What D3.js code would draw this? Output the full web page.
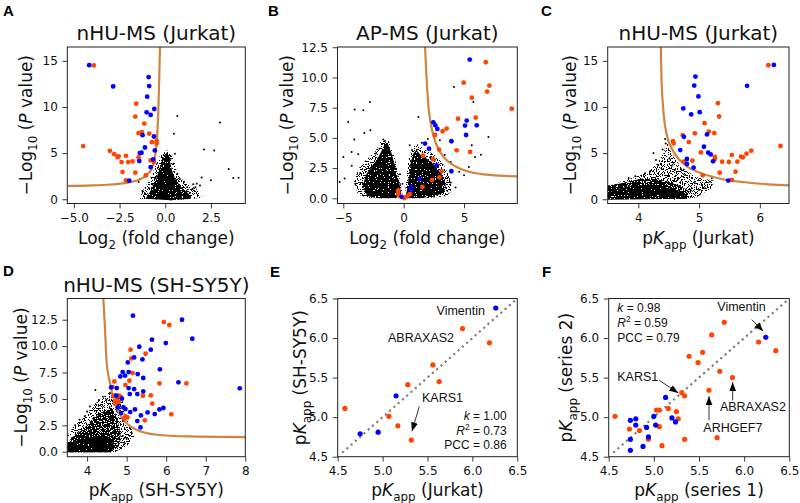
<!DOCTYPE html>
<html><head><meta charset="utf-8">
<script src="https://cdn.jsdelivr.net/npm/d3@7"></script>
<style>
body{margin:0;background:#fff}
svg{display:block}
text{white-space:pre}
</style>
</head><body>
<svg id="c" width="800" height="503"></svg>
<script>
// ---------------- DATA ----------------
// Panel A: nHU-MS (Jurkat) volcano
const A_blue = [[-4.16,14.53],[-0.91,13.24],[-0.88,12.27],[-2.85,12.23],[-0.99,11.12],[-0.60,9.78],[-1.02,9.42],[-0.80,9.14],[-1.24,6.94],[-0.62,6.80],[-1.11,5.61],[-0.57,5.29],[-1.39,5.0],[-1.30,5.04],[-1.42,4.14],[-0.66,4.32],[-0.80,3.49],[-1.97,2.01]];
const A_orange = [[-3.91,14.5],[-1.59,10.36],[-1.64,8.96],[-1.15,8.2],[-1.46,7.16],[-1.28,7.27],[-0.88,7.12],[-0.47,6.33],[-0.47,6.04],[-0.73,6.19],[-4.49,5.76],[-3.03,5.25],[-2.79,4.89],[-2.61,4.57],[-2.55,4.65],[-2.15,4.71],[-1.46,4.53],[-2.39,4.03],[-2.03,4.03],[-1.79,4.1],[-0.80,4.21],[-0.62,4.03],[-2.34,2.95],[-1.64,2.88],[-1.06,2.59],[-2.15,2.05]];
const A_black = [[0.66,9.03],[2.99,8.31],[0.47,7.09],[2.12,5.40],[2.68,5.29],[3.47,3.27],[3.72,2.30],[4.01,2.34],[1.99,2.37],[2.5,2.05],[1.53,1.62],[1.72,1.69],[1.5,1.15],[1.65,1.3],[1.9,1.5],[1.17,0.86],[1.35,0.7],[0.53,4.93],[0.44,3.85],[-0.29,3.31],[-1.09,0.61],[-1.39,2.16],[-1.46,1.87],[1.02,1.87],[0.66,2.77],[0.8,2.2],[-0.7,1.6],[-0.9,1.2],[-1.25,0.9],[0.3,4.4],[-0.15,4.2],[1.2,1.3],[-0.55,2.3]];
const A_core = [[-1.1,0.05],[-0.9,0.6],[-0.7,1.3],[-0.5,2.2],[-0.35,3.1],[-0.2,4.0],[-0.05,4.8],[0.12,5.1],[0.25,4.5],[0.3,3.7],[0.4,2.9],[0.55,2.2],[0.8,1.5],[1.1,0.9],[1.4,0.4],[1.4,0.05],[0.3,-0.1]];
const A_halo = [[-1.4,0.05],[-1.25,0.9],[-0.95,1.8],[-0.7,2.8],[-0.5,3.8],[-0.3,4.7],[0.1,5.3],[0.45,4.6],[0.6,3.2],[0.9,2.2],[1.4,1.5],[1.9,0.9],[2.0,0.1],[0.3,-0.1]];
const A_curve = [[-5.36,1.44],[-4.0,1.5],[-3.0,1.6],[-2.2,1.75],[-1.6,2.0],[-1.2,2.35],[-0.9,2.85],[-0.7,3.5],[-0.58,4.4],[-0.5,5.5],[-0.44,7.0],[-0.38,9.5],[-0.33,13.0],[-0.29,16.5]];
const A_xticks = [-5,-2.5,0,2.5];
const A_yticks = [0,5,10,15];

// Panel B: AP-MS (Jurkat) volcano
const B_blue = [[5.47,11.48],[5.22,6.43],[2.46,6.29],[2.62,6.04],[2.79,5.74],[5.08,6.02],[6.05,6.04],[5.17,5.24],[1.77,4.53],[2.10,4.11],[3.95,4.72],[2.73,2.73],[3.95,2.24],[1.33,1.60],[0.62,0.9],[0.6,0.7],[-0.18,0.12]];
const B_orange = [[6.80,11.26],[4.97,9.57],[7.10,9.33],[6.91,8.83],[5.64,8.33],[8.95,7.42],[4.50,6.59],[5.97,6.68],[3.56,5.77],[3.23,5.55],[2.60,5.24],[2.93,4.03],[4.39,3.97],[5.50,3.84],[1.60,3.53],[2.43,3.23],[3.15,2.24],[2.96,1.74],[2.35,1.52],[1.55,0.94],[-0.45,0.64],[-0.45,0.45],[-0.42,0.25],[0.05,0.02],[0.2,0.12],[0.4,0.25],[0.52,0.36]];
const B_black = [[-2.79,7.97],[-4.06,7.34],[-3.34,7.28],[-4.59,6.32],[-2.76,5.63],[-3.26,5.41],[-4.09,4.86],[-5.0,3.42],[-4.31,3.84],[-3.76,3.64],[-4.89,1.63],[-5.3,1.35],[-1.69,4.86],[-1.55,4.75],[1.22,6.73],[4.17,9.22],[5.77,7.97],[7.02,5.08],[5.64,4.39],[5.91,3.42],[3.9,3.0],[4.6,2.2],[5.0,1.9],[-3.6,2.1],[-4.0,1.2],[-4.3,2.7],[-2.3,3.7],[-2.0,4.1],[0.5,4.4],[0.7,4.0],[1.5,4.6],[2.0,4.9],[3.0,4.8],[3.4,3.6],[2.6,3.2],[2.2,3.0],[3.9,1.3],[4.3,0.9],[-0.3,2.0],[-0.1,1.2],[6.4,3.6],[5.4,2.6]];
const B_coreL = [[-3.0,0.2],[-3.4,1.0],[-3.1,2.0],[-2.6,2.7],[-2.2,3.2],[-1.85,3.9],[-1.55,4.5],[-1.3,4.5],[-1.0,3.7],[-0.75,2.8],[-0.5,1.8],[-0.3,1.0],[-0.2,0.3],[-0.5,0.05],[-1.5,0.0],[-2.4,0.05]];
const B_haloL = [[-3.8,0.3],[-4.1,1.4],[-3.7,2.5],[-3.1,3.2],[-2.4,3.8],[-1.9,4.7],[-1.3,4.9],[-0.8,3.6],[-0.4,2.0],[-0.1,0.4],[-0.5,0.0],[-2.8,0.0]];
const B_coreR = [[0.15,0.1],[0.3,0.8],[0.45,1.9],[0.6,3.0],[0.8,3.7],[1.05,4.0],[1.4,3.6],[1.9,3.3],[2.5,2.8],[3.0,2.2],[3.4,1.5],[3.5,0.9],[3.3,0.45],[2.5,0.15],[1.4,0.03],[0.5,0.03]];
const B_haloR = [[0.1,0.0],[0.2,1.5],[0.4,3.2],[0.7,4.2],[1.1,4.5],[1.8,4.0],[2.6,3.6],[3.3,2.8],[3.8,1.8],[4.0,0.8],[3.6,0.2],[2.0,0.0]];
const B_curve = [[1.77,12.55],[1.85,10.8],[1.95,9.0],[2.07,7.42],[2.32,5.77],[2.73,4.39],[3.43,3.28],[4.39,2.59],[5.5,2.18],[6.88,1.96],[8.26,1.85],[9.42,1.82]];
const B_xticks = [-5,0,5];
const B_yticks = [0,2.5,5,7.5,10,12.5];

// Panel C: nHU-MS (Jurkat) vs pKapp
const C_blue = [[6.23,14.56],[4.94,13.3],[4.92,12.32],[5.79,12.29],[4.99,11.14],[4.74,9.84],[5.01,9.44],[4.87,9.19],[5.13,7.03],[4.75,6.77],[5.08,5.69],[4.69,5.33],[5.15,5.05],[5.19,4.86],[5.23,4.11],[4.80,4.36],[4.80,3.82],[4.91,3.42],[5.48,2.02]];
const C_orange = [[6.14,14.52],[5.31,10.41],[5.33,8.97],[5.09,8.25],[4.93,7.14],[5.16,7.32],[5.25,7.17],[4.73,6.95],[4.83,6.2],[4.57,6.31],[4.58,6.05],[6.34,5.77],[5.03,5.08],[5.86,5.26],[5.78,4.94],[5.69,4.61],[5.72,4.55],[5.54,4.79],[5.26,4.58],[5.26,4.36],[5.38,4.07],[5.49,4.04],[5.63,4.07],[4.89,4.18],[4.75,4.07],[5.34,2.88],[5.6,2.99],[5.06,2.59],[5.54,2.09]];
const C_black = [[4.44,6.52],[4.45,6.05],[4.51,4.43],[4.29,4.25],[4.33,3.71],[4.38,3.35],[4.55,3.64],[4.60,3.17],[4.70,3.28],[4.77,2.63],[4.93,1.73],[5.05,1.55],[5.21,2.27],[5.18,1.91],[4.88,1.19],[4.19,2.99],[4.11,2.81],[3.95,2.5],[3.84,2.3],[4.25,5.0],[4.4,5.4],[4.5,2.5],[4.65,2.2],[5.0,1.0],[5.1,1.2]];
const C_core = [[3.49,-0.05],[3.49,1.1],[3.7,1.2],[3.85,1.4],[4.0,1.5],[4.2,1.6],[4.35,1.5],[4.5,1.2],[4.65,0.9],[4.75,0.5],[4.8,0.05]];
const C_mid = [[3.49,0.9],[3.49,1.5],[3.7,1.7],[3.9,2.0],[4.1,2.3],[4.3,2.2],[4.5,1.9],[4.7,1.4],[4.85,0.8],[4.8,0.05],[4.2,0.3]];
const C_halo = [[3.49,1.2],[3.7,1.9],[3.95,2.4],[4.15,2.9],[4.3,3.8],[4.42,5.0],[4.46,6.4],[4.55,5.0],[4.7,3.5],[4.95,2.4],[5.25,2.0],[5.2,1.2],[4.95,0.2],[4.6,-0.05]];
const C_curve = [[4.37,16.5],[4.38,13.4],[4.41,9.84],[4.47,6.95],[4.58,5.15],[4.77,3.71],[5.04,2.81],[5.37,2.2],[5.76,1.84],[6.14,1.62],[6.49,1.51]];
const C_xticks = [4,5,6];
const C_yticks = [0,5,10,15];

// Panel D: nHU-MS (SH-SY5Y)
const D_blue = [[5.16,12.88],[6.40,12.50],[6.66,10.70],[5.64,10.61],[5.99,10.29],[5.32,9.94],[5.61,9.66],[5.19,8.93],[5.40,8.74],[5.03,8.46],[4.90,7.54],[5.05,7.54],[5.28,7.35],[4.84,7.13],[5.42,6.98],[4.96,7.2],[5.84,7.80],[4.61,6.09],[4.75,6.03],[5.05,6.03],[5.19,5.93],[6.31,6.57],[7.86,6.0],[5.42,5.71],[5.08,5.46],[5.27,5.46],[4.74,5.30],[4.88,5.02],[4.78,4.20],[4.92,4.20],[4.97,4.04],[5.21,4.01],[4.86,3.66],[5.09,3.76],[5.53,3.72],[5.71,3.57],[5.83,4.01],[5.93,4.14],[5.36,3.44],[5.27,2.90],[5.35,2.30]];
const D_orange = [[5.94,12.28],[6.08,12.0],[5.10,9.66],[5.12,8.84],[5.48,9.28],[5.15,7.45],[4.69,6.66],[5.07,6.72],[4.97,6.31],[4.64,6.12],[5.83,6.47],[6.51,6.47],[4.67,5.30],[4.81,5.30],[4.75,4.86],[4.80,4.73],[4.70,4.61],[4.86,5.18],[5.41,5.30],[5.61,5.33],[5.65,4.55],[6.13,3.54],[4.97,3.35],[5.02,3.25],[5.46,2.97],[4.94,3.09]];
const D_black = [[4.21,5.84],[5.08,2.24],[5.13,1.77],[4.83,1.14],[4.9,1.5],[3.81,3.03],[3.94,3.35],[4.07,4.29],[4.49,4.92],[4.58,5.56],[4.65,5.2],[4.3,4.9],[4.0,3.8],[3.7,2.5],[5.0,1.2],[4.95,0.8],[4.4,5.2],[4.75,5.0]];
const D_core = [[3.49,-0.05],[3.49,0.9],[3.8,1.1],[4.1,1.4],[4.4,1.6],[4.6,1.2],[4.7,0.5],[4.6,-0.05]];
const D_mid = [[3.49,0.6],[3.6,1.3],[3.85,2.0],[4.05,2.7],[4.25,3.4],[4.45,3.9],[4.6,4.2],[4.72,3.6],[4.8,2.6],[4.85,1.5],[4.8,0.5],[4.6,-0.05],[3.49,-0.05]];
const D_halo = [[3.49,1.5],[3.7,2.6],[3.95,3.4],[4.15,4.4],[4.35,5.0],[4.55,5.6],[4.75,5.5],[4.9,4.8],[4.95,3.5],[5.1,2.4],[5.2,1.5],[5.0,0.5],[4.7,-0.05]];
const D_curve = [[4.41,14.55],[4.45,11.87],[4.49,8.71],[4.58,6.5],[4.70,4.61],[4.92,3.03],[5.25,2.08],[5.76,1.61],[6.53,1.45],[8.02,1.39]];
const D_xticks = [4,5,6,7,8];
const D_yticks = [0,2.5,5,7.5,10,12.5];

// Panel E: pKapp Jurkat vs SH-SY5Y
const E_blue = [[6.26,6.38],[5.15,5.27],[4.75,4.79],[4.95,4.81]];
const E_orange = [[5.89,6.12],[6.19,5.94],[5.56,5.66],[5.63,5.45],[5.28,5.41],[4.58,5.11],[5.07,5.01],[5.17,4.89],[5.32,4.71]];
const E_stats = [["k","1.00"],["R2","0.73"],["PCC","0.86"]];
// Panel F: series 1 vs series 2
const F_blue = [[6.24,6.01],[5.13,5.25],[4.74,4.96],[4.80,4.98],[4.80,4.90],[4.74,4.72],[4.74,4.58],[4.92,4.87],[4.94,4.75],[4.88,4.63],[5.00,5.01],[5.02,4.90],[5.20,4.99],[5.24,4.94]];
const F_orange = [[5.78,6.20],[5.64,6.04],[6.16,5.95],[6.35,5.84],[5.39,5.77],[5.54,5.82],[5.49,5.69],[5.73,5.58],[5.87,5.50],[5.61,5.34],[5.31,5.31],[5.34,5.27],[4.57,5.01],[5.03,5.09],[5.06,5.09],[5.16,5.11],[5.25,5.07],[5.27,4.98],[4.73,4.85],[4.84,4.83],[5.06,4.88],[4.94,4.72],[5.09,4.64],[5.34,4.72],[5.70,4.74]];
const F_stats = [["k","0.98"],["R2","0.59"],["PCC","0.79"]];
const EF_ticks = [4.5,5,5.5,6,6.5];
const diagonal = [[4.55,4.55],[6.5,6.5]];

// annotations: [text, anchor, x, y, arrowFrom, arrowTo]
const E_notes = [["Vimentin","end",6.14,6.29,null,null],["ABRAXAS2","middle",5.428,5.954,null,null],["KARS1","start",5.439,5.188,[5.409,5.137],[5.327,4.821]]];
const F_notes = [["Vimentin","end",6.239,6.338,[6.084,6.232],[6.212,6.085]],["KARS1","start",4.595,5.453,[5.06,5.466],[5.271,5.305]],["ABRAXAS2","middle",6.097,5.074,[5.873,5.213],[5.873,5.441]],["ARHGEF7","middle",5.875,4.808,[5.611,4.962],[5.611,5.265]]];

// ---------------- DRAWING ----------------
const BLUE="#0000ff", ORANGE="#ff4500", CURVE="#cd853f";
const TICKF="DejaVu Sans", ANNF="Liberation Sans, Arial, sans-serif";
const svg = d3.select("#c");
const defs = svg.append("defs");
defs.append("marker").attr("id","arr").attr("viewBox","0 0 10 10").attr("refX",10).attr("refY",5)
  .attr("markerWidth",9).attr("markerHeight",9).attr("markerUnits","userSpaceOnUse").attr("orient","auto")
  .append("path").attr("d","M0,1.2 L10,5 L0,8.8 z").attr("fill","#000");

// speckle texture filters (visual style for dense point clouds)
function speckle(id, k, seed){
  const f=defs.append("filter").attr("id",id).attr("x",0).attr("y",0).attr("width",1).attr("height",1)
    .attr("color-interpolation-filters","sRGB");
  f.append("feTurbulence").attr("type","fractalNoise").attr("baseFrequency",0.85).attr("numOctaves",1).attr("seed",seed).attr("result","n");
  f.append("feColorMatrix").attr("in","n").attr("type","matrix")
    .attr("values","0 0 0 0 0  0 0 0 0 0  0 0 0 0 0  1 0 0 0 0").attr("result","a");
  const tbl=d3.range(20).map(i=>i>=k?1:0).join(" ");
  f.append("feComponentTransfer").attr("in","a").attr("result","t").append("feFuncA").attr("type","discrete").attr("tableValues",tbl);
  f.append("feComposite").attr("in","t").attr("in2","SourceGraphic").attr("operator","in");
}
speckle("hi",7,3); speckle("mid",9,5); speckle("lo",11,7);

function rich(sel, parts, fs){
  let shift=0;
  parts.forEach(p=>{
    const ts=sel.append("tspan").text(p.t);
    const target = p.sub ? fs*0.3 : (p.sup ? -fs*0.38 : 0);
    if(target!==shift){ ts.attr("dy", target-shift); shift=target; }
    if(p.sub||p.sup) ts.attr("font-size", fs*0.7);
    if(p.it) ts.attr("font-style","italic");
  });
}
const LOGP = [{t:"\u2212Log"},{t:"10",sub:true},{t:" ("},{t:"P",it:true},{t:" value)"}];
const LOG2 = [{t:"Log"},{t:"2",sub:true},{t:" (fold change)"}];
const pK = s => [{t:"p"},{t:"K",it:true},{t:"app",sub:true},{t:" ("+s+")"}];

let clipN=0;
function panel(o){
  const [x0,x1,y0,y1]=o.frame;
  const x=d3.scaleLinear().domain(o.xDom).range([x0,x1]);
  const y=d3.scaleLinear().domain(o.yDom).range([y1,y0]);
  const id="clip"+(clipN++);
  defs.append("clipPath").attr("id",id).append("rect").attr("x",x0).attr("y",y0).attr("width",x1-x0).attr("height",y1-y0);
  const g=svg.append("g");
  const pg=g.append("g").attr("clip-path",`url(#${id})`);
  const poly=d3.line().x(d=>x(d[0])).y(d=>y(d[1])).curve(d3.curveLinearClosed);
  (o.layers||[]).forEach(L=>pg.append("g").attr("filter",`url(#${L[1]})`)
      .append("path").attr("d",poly(L[0])).attr("fill","#000"));
  pg.selectAll(null).data(o.black||[]).join("circle").attr("cx",d=>x(d[0])).attr("cy",d=>y(d[1])).attr("r",1).attr("fill","#000");
  if(o.curve){
    pg.append("path").attr("d",d3.line().x(d=>x(d[0])).y(d=>y(d[1])).curve(d3.curveMonotoneX)(o.curve))
      .attr("fill","none").attr("stroke",CURVE).attr("stroke-width",2.2);
  }
  if(o.diag){
    pg.append("path").attr("d",d3.line().x(d=>x(d[0])).y(d=>y(d[1]))(o.diag))
      .attr("fill","none").attr("stroke","#808080").attr("stroke-width",2.2).attr("stroke-dasharray","2.2 3.5");
  }
  const r=o.r||2.4;
  pg.selectAll(null).data(o.orange||[]).join("circle").attr("cx",d=>x(d[0])).attr("cy",d=>y(d[1])).attr("r",r).attr("fill",ORANGE);
  pg.selectAll(null).data(o.blue||[]).join("circle").attr("cx",d=>x(d[0])).attr("cy",d=>y(d[1])).attr("r",r).attr("fill",BLUE);
  g.append("rect").attr("x",x0).attr("y",y0).attr("width",x1-x0).attr("height",y1-y0)
    .attr("fill","none").attr("stroke","#222").attr("stroke-width",1);
  const ax=g.append("g").attr("transform",`translate(0,${y1})`)
    .call(d3.axisBottom(x).tickValues(o.xTicks).tickFormat(d3.format(o.xFmt)).tickSize(4.9).tickPadding(5.2).tickSizeOuter(0));
  const ay=g.append("g").attr("transform",`translate(${x0},0)`)
    .call(d3.axisLeft(y).tickValues(o.yTicks).tickFormat(d3.format(o.yFmt)).tickSize(4.9).tickPadding(4.6).tickSizeOuter(0));
  [ax,ay].forEach(a=>{a.select(".domain").remove();
    a.selectAll("text").attr("font-family",TICKF).attr("font-size",12).attr("fill","#111");
    a.selectAll("line").attr("stroke","#222").attr("stroke-width",0.9);});
  const cx=(x0+x1)/2, cy=(y0+y1)/2;
  rich(g.append("text").attr("x",cx).attr("y",o.xLabY).attr("text-anchor","middle")
    .attr("font-family",TICKF).attr("font-size",17).attr("fill","#111"), o.xLab, 17);
  rich(g.append("text").attr("transform",`translate(${o.yLabX},${cy}) rotate(-90)`).attr("text-anchor","middle")
    .attr("font-family",TICKF).attr("font-size",17).attr("fill","#111"), o.yLab, 17);
  if(o.title) g.append("text").attr("x",cx).attr("y",o.titleY).attr("text-anchor","middle")
    .attr("font-family",TICKF).attr("font-size",20).attr("fill","#111").text(o.title);
  g.append("text").attr("x",o.letter[1]).attr("y",o.letter[2]).attr("font-family",ANNF)
    .attr("font-weight","bold").attr("font-size",15).attr("fill","#000").text(o.letter[0]);
  (o.notes||[]).forEach(n=>{
    g.append("text").attr("x",x(n[2])).attr("y",y(n[3])).attr("text-anchor",n[1])
      .attr("font-family",ANNF).attr("font-size",12.5).attr("fill","#111").text(n[0]);
    if(n[4]) g.append("line").attr("x1",x(n[4][0])).attr("y1",y(n[4][1])).attr("x2",x(n[5][0])).attr("y2",y(n[5][1]))
      .attr("stroke","#000").attr("stroke-width",0.8).attr("marker-end","url(#arr)");
  });
  if(o.stats){
    o.stats.forEach((s,i)=>{
      const t=g.append("text").attr("x",o.statsX).attr("y",o.statsY[i]).attr("text-anchor",o.statsAnchor)
        .attr("font-family",ANNF).attr("font-size",12).attr("fill","#111");
      if(s[0]==="k") rich(t,[{t:"k",it:true},{t:" = "+s[1]}],12);
      else if(s[0]==="R2") rich(t,[{t:"R",it:true},{t:"2",sup:true},{t:" = "+s[1]}],12);
      else rich(t,[{t:s[0]+" = "+s[1]}],12);
    });
  }
}

panel({frame:[67.3,245.3,47,203.5],xDom:[-5.36,4.38],yDom:[-0.46,16.5],xTicks:A_xticks,yTicks:A_yticks,xFmt:".1f",yFmt:"d",
  blue:A_blue,orange:A_orange,black:A_black,layers:[[A_halo,"lo"],[A_core,"hi"]],curve:A_curve,
  title:"nHU-MS (Jurkat)",titleY:40,xLab:LOG2,xLabY:244,yLab:LOGP,yLabX:32,letter:["A",3,16]});
panel({frame:[337.5,517.3,47,203.5],xDom:[-5.48,9.41],yDom:[-0.43,12.52],xTicks:B_xticks,yTicks:B_yticks,xFmt:"d",yFmt:".1f",
  blue:B_blue,orange:B_orange,black:B_black,layers:[[B_haloL,"lo"],[B_haloR,"lo"],[B_coreL,"hi"],[B_coreR,"hi"]],curve:B_curve,
  title:"AP-MS (Jurkat)",titleY:40,xLab:LOG2,xLabY:244,yLab:LOGP,yLabX:292.5,letter:["B",268,16]});
panel({frame:[607.7,789,47,203.5],xDom:[3.496,6.48],yDom:[-0.46,16.5],xTicks:C_xticks,yTicks:C_yticks,xFmt:"d",yFmt:"d",
  blue:C_blue,orange:C_orange,black:C_black,layers:[[C_halo,"lo"],[C_mid,"mid"],[C_core,"hi"]],curve:C_curve,
  title:"nHU-MS (Jurkat)",titleY:40,xLab:pK("Jurkat"),xLabY:244,yLab:LOGP,yLabX:575.5,letter:["C",541,16]});
panel({frame:[67.3,245.3,298.5,456.7],xDom:[3.5,8.0],yDom:[-0.47,14.51],xTicks:D_xticks,yTicks:D_yticks,xFmt:"d",yFmt:".1f",
  blue:D_blue,orange:D_orange,black:D_black,layers:[[D_halo,"lo"],[D_mid,"mid"],[D_core,"hi"]],curve:D_curve,
  title:"nHU-MS (SH-SY5Y)",titleY:291.5,xLab:pK("SH-SY5Y"),xLabY:496,yLab:LOGP,yLabX:26.5,letter:["D",3,276]});
panel({frame:[337.7,517.3,298.5,456.7],xDom:[4.5,6.5],yDom:[4.5,6.5],xTicks:EF_ticks,yTicks:EF_ticks,xFmt:".1f",yFmt:".1f",
  blue:E_blue,orange:E_orange,diag:diagonal,r:2.6,notes:E_notes,stats:E_stats,statsX:506.7,statsY:[420,434.6,449.2],statsAnchor:"end",
  xLab:pK("Jurkat"),xLabY:496,yLab:pK("SH-SY5Y"),yLabX:305.5,letter:["E",270,277]});
panel({frame:[608.7,789.3,298.5,456.7],xDom:[4.5,6.5],yDom:[4.5,6.5],xTicks:EF_ticks,yTicks:EF_ticks,xFmt:".1f",yFmt:".1f",
  blue:F_blue,orange:F_orange,diag:diagonal,r:2.6,notes:F_notes,stats:F_stats,statsX:617.3,statsY:[312,327,341.7],statsAnchor:"start",
  xLab:pK("series 1"),xLabY:496,yLab:pK("series 2"),yLabX:572,letter:["F",542,277]});
</script>
</body></html>
